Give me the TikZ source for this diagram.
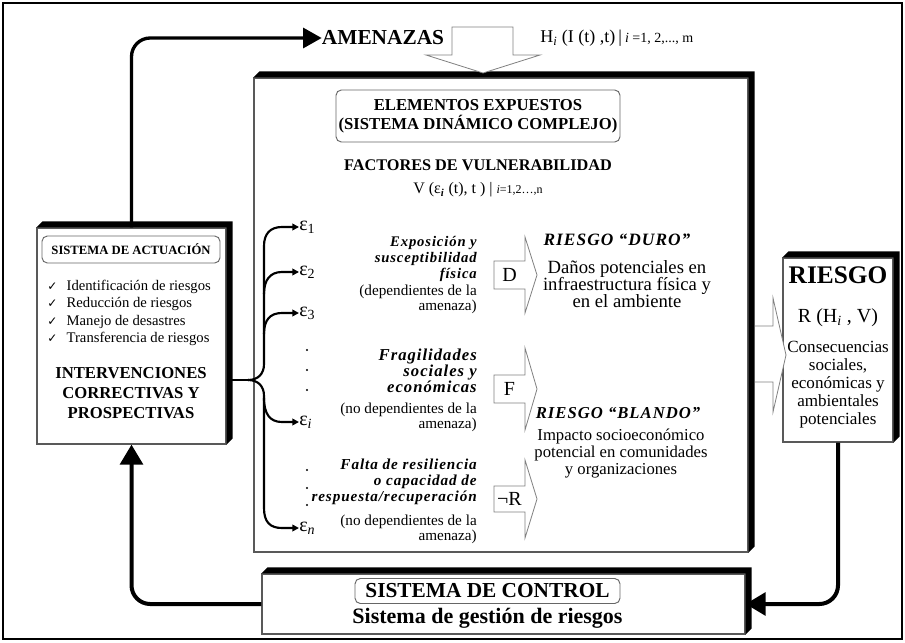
\documentclass[tikz,border=0pt]{standalone}
\usepackage{fontspec}
\setmainfont{Liberation Serif}
\newfontfamily\spc[LetterSpace=6]{Liberation Serif}
\newfontfamily\symf{DejaVu Sans}
\usetikzlibrary{arrows.meta}
\newcommand\myextrude[2]{\fill[black] (#1.north west) -- ++(#2,-#2) -- ([shift={(#2,-#2)}]#1.north east) -- ([shift={(#2,-#2)}]#1.south east) -- (#1.south east) -- (#1.north east) -- cycle;}
\newcommand\chk{{\symf\fontsize{9}{10}\selectfont ✓}\hspace{7pt}}
\begin{document}
\begin{tikzpicture}[x=0.75pt,y=-0.75pt,
  face/.style={draw=black!65, line width=0.9pt, fill=white, inner sep=0pt},
  rbox/.style={draw=black!60, line width=0.7pt, rounded corners=4pt, fill=white, inner sep=0pt, align=center},
  hollow/.style={draw=black!50, line width=0.6pt, fill=white, line join=miter},
  flow/.style={line width=3pt, rounded corners=14pt, -{Triangle[length=15pt,width=17pt]}},
  branch/.style={line width=1.6pt, -{Triangle[length=5pt,width=5pt]}},
  txt/.style={inner sep=0pt, align=center},
  eps/.style={inner sep=0pt, anchor=west, font=\fontsize{15}{16}\selectfont},
  bi/.style={inner sep=0pt, anchor=north east, align=right, font=\spc\bfseries\itshape\fontsize{11}{12}\selectfont},
  bib/.style={bi, font=\spc\bfseries\itshape\fontsize{12.5}{12}\selectfont},
  bic/.style={bi, font=\spc\bfseries\itshape\fontsize{11.4}{12}\selectfont},
  dep/.style={inner sep=0pt, anchor=north east, align=right, font=\fontsize{11.4}{8.8}\selectfont},
  letter/.style={inner sep=0pt, font=\fontsize{15}{17}\selectfont},
]
\useasboundingbox (0,0) rectangle (905,642);
\draw[line width=1.5pt] (3,3) rectangle (902,639);

% main box
\node[face, minimum width=370.5pt, minimum height=355.5pt] (main) at (501,315) {};
\myextrude{main}{6}
% left box
\node[face, minimum width=141.75pt, minimum height=162pt] (lbox) at (131.5,336) {};
\myextrude{lbox}{6}
% riesgo box
\node[face, minimum width=82.5pt, minimum height=138pt] (rbox) at (838,350) {};
\myextrude{rbox}{6}
% control box
\node[face, minimum width=362.25pt, minimum height=45pt] (ctrl) at (503.5,604) {};
\myextrude{ctrl}{6}

% top
\node[txt, font=\bfseries\fontsize{16}{18}\selectfont] (amen) at (383,38) {AMENAZAS};
\node[inner sep=0pt, anchor=west, font=\fontsize{13.5}{15}\selectfont] (hx) at (540,38) {H\textsubscript{\itshape i} (I (t) ,t)\,|\,{\fontsize{10.5}{12}\selectfont\itshape i\upshape\ =1, 2,..., m}};
\draw[hollow] (452,27) -- (513,27) -- (513,55) -- (540,55) -- (483,73) -- (426,55) -- (452,55) -- cycle;

% main content
\node[rbox, minimum width=213pt, minimum height=39pt, font=\bfseries\fontsize{12.5}{14.5}\selectfont] (elem) at (478,116) {ELEMENTOS EXPUESTOS\\(SISTEMA DINÁMICO COMPLEJO)};
\node[txt, font=\bfseries\fontsize{12.2}{13}\selectfont] (fac) at (478,165) {FACTORES DE VULNERABILIDAD};
\node[txt, font=\fontsize{12}{13}\selectfont] (vfun) at (478,190) {V (ε\textsubscript{\bfseries\itshape i} (t), t ) | {\fontsize{9}{10}\selectfont\itshape i\upshape=1,2…,n}};

\node[eps] (e1) at (299,227) {ε\textsubscript{1}};
\node[eps] (e2) at (299,272) {ε\textsubscript{2}};
\node[eps] (e3) at (299,313) {ε\textsubscript{3}};
\node[eps] (ei) at (299,422) {ε\textsubscript{\itshape i}};
\node[eps] (en) at (299,528) {ε\textsubscript{\itshape n}};
\foreach \yy in {350,370,390,470,488,505} \fill (307,\yy) circle (1.1);

\coordinate (J) at (248,380);
\draw[line width=1.6pt] (lbox.east |- J) -- (J);
\draw[branch] (J) .. controls (258,380) and (264,374) .. (264,364) -- (264,246) .. controls (264,234) and (270,227) .. (282,227) -- (e1.west);
\draw[branch] (264,294) .. controls (264,280) and (270,272) .. (282,272) -- (e2.west);
\draw[branch] (264,334) .. controls (264,320) and (270,313) .. (282,313) -- (e3.west);
\draw[branch] (J) .. controls (258,380) and (264,386) .. (264,396) -- (264,508) .. controls (264,522) and (270,528) .. (282,528) -- (en.west);
\draw[branch] (264,398) .. controls (264,414) and (270,422) .. (282,422) -- (ei.west);

\node[bi] (t1) at (477,236) {Exposición y\\susceptibilidad\\física};
\node[dep] (d1) at (477,285) {(dependientes de la\\amenaza)};
\node[bib] (t2) at (477,349) {Fragilidades\\sociales y\\económicas};
\node[dep] (d2) at (477,403) {(no dependientes de la\\amenaza)};
\node[bic] (t3) at (477,459) {Falta de resiliencia\\o capacidad de\\respuesta/recuperación};
\node[dep] (d3) at (477,515) {(no dependientes de la\\amenaza)};

\draw[hollow] (494,261) -- (525,261) -- (525,237) -- (537,275) -- (525,313) -- (525,289) -- (494,289) -- cycle;
\node[letter] (dl) at (509.5,275) {D};
\draw[hollow] (494,375) -- (525,375) -- (525,348) -- (537,389) -- (525,430) -- (525,403) -- (494,403) -- cycle;
\node[letter] (fl) at (509.5,389) {F};
\draw[hollow] (494,486) -- (525,486) -- (525,460) -- (537,499) -- (525,538) -- (525,512) -- (494,512) -- cycle;
\node[letter] (rl) at (509.5,499) {¬R};

\node[txt, font=\spc\bfseries\itshape\fontsize{13}{14}\selectfont] (duro) at (617,240) {RIESGO “DURO”};
\node[txt, font=\fontsize{14}{13}\selectfont] (danos) at (627,284) {Daños potenciales en\\infraestructura física y\\en el ambiente};
\node[txt, font=\spc\bfseries\itshape\fontsize{12.5}{14}\selectfont] (blando) at (618,413) {RIESGO “BLANDO”};
\node[txt, font=\fontsize{12.5}{12.75}\selectfont] (impacto) at (621,453) {Impacto socioeconómico\\potencial en comunidades\\y organizaciones};

% arrow to riesgo
\draw[hollow] (755,326) -- (773,326) -- (773,298) -- (786,355) -- (773,412) -- (773,382) -- (755,382);

% riesgo content
\node[txt, font=\bfseries\fontsize{19}{21}\selectfont] (rtitle) at (838,275) {RIESGO};
\node[txt, font=\fontsize{15}{16}\selectfont] (rfun) at (838,318) {R (H\textsubscript{\itshape i} , V)};
\node[txt, font=\fontsize{12.8}{13.5}\selectfont] (rcons) at (838,385) {Consecuencias\\sociales,\\económicas y\\ambientales\\potenciales};

% left content
\node[rbox, minimum width=133.5pt, minimum height=20.25pt, font=\bfseries\fontsize{9.5}{11}\selectfont] (act) at (131,249.5) {SISTEMA DE ACTUACIÓN};
\node[anchor=north west, align=left, inner sep=0pt, font=\fontsize{11}{13}\selectfont] (list) at (47,280) {\chk Identificación de riesgos\\\chk Reducción de riesgos\\\chk Manejo de desastres\\\chk Transferencia de riesgos};
\node[txt, font=\bfseries\fontsize{12.5}{15}\selectfont] (interv) at (131,393) {INTERVENCIONES\\CORRECTIVAS Y\\PROSPECTIVAS};

% control content
\node[rbox, minimum width=198.75pt, minimum height=18.75pt, font=\bfseries\fontsize{16}{17}\selectfont] (ctitle) at (487.5,591) {SISTEMA DE CONTROL};
\node[txt, font=\bfseries\fontsize{16.5}{17}\selectfont] (cgest) at (487.5,618) {Sistema de gestión de riesgos};

% flows
\draw[line width=2.5pt, rounded corners=14pt, -{Triangle[length=14pt,width=15pt]}] (lbox.north) |- (amen.west);
\draw[flow] (ctrl.west) -| (lbox.south);
\draw[flow] (rbox.south) |- (ctrl.east);
\end{tikzpicture}
\end{document}
